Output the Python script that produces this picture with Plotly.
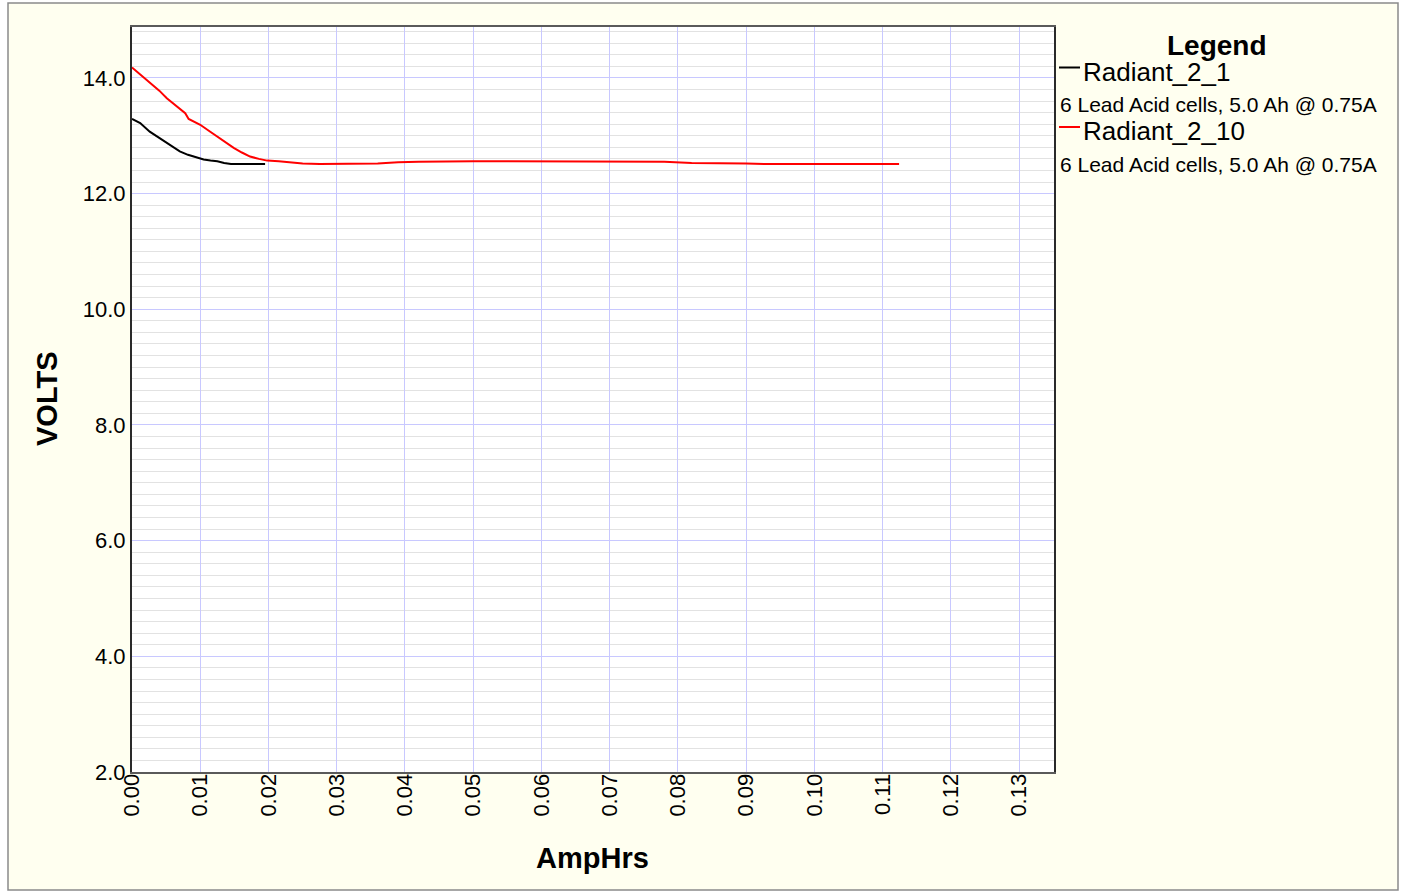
import plotly.graph_objects as go

# ---- data ----
series_names = ["Radiant_2_1", "Radiant_2_10"]
series_desc = ["6 Lead Acid cells, 5.0 Ah @ 0.75A", "6 Lead Acid cells, 5.0 Ah @ 0.75A"]
series_colors = ["#000000", "#FF0000"]

amphrs_1 = [0, 0.0012, 0.0026, 0.0040, 0.0051, 0.0062, 0.0070, 0.0082, 0.0095, 0.0105,
            0.0115, 0.0125, 0.0135, 0.0145, 0.0160, 0.0180, 0.0195]
volts_1 = [13.29, 13.22, 13.07, 12.96, 12.87, 12.79, 12.73, 12.67, 12.62, 12.59,
           12.57, 12.56, 12.53, 12.51, 12.51, 12.51, 12.51]

amphrs_10 = [0, 0.0013, 0.0026, 0.0040, 0.0051, 0.0065, 0.0078, 0.0083, 0.0090, 0.0100,
             0.0112, 0.0124, 0.0137, 0.0149, 0.0161, 0.0173, 0.0186, 0.0198, 0.0215, 0.0235,
             0.0250, 0.0275, 0.0300, 0.0330, 0.0360, 0.0390, 0.0420, 0.0500, 0.0600, 0.0700,
             0.0780, 0.0820, 0.0860, 0.0900, 0.0935, 0.1000, 0.1124]
volts_10 = [14.18, 14.05, 13.91, 13.78, 13.65, 13.52, 13.39, 13.29, 13.25, 13.19,
            13.09, 12.99, 12.89, 12.79, 12.71, 12.64, 12.60, 12.57, 12.56, 12.54,
            12.52, 12.51, 12.51, 12.51, 12.52, 12.54, 12.55, 12.56, 12.56, 12.55,
            12.55, 12.53, 12.53, 12.52, 12.51, 12.51, 12.51]

x_ticks = [round(i * 0.01, 2) for i in range(14)]
x_tick_labels = [f"{v:.2f}" for v in x_ticks]
y_ticks = [2, 4, 6, 8, 10, 12, 14]
y_tick_labels = [f"{v:.1f}" for v in y_ticks]

xs = [amphrs_1, amphrs_10]
ys = [volts_1, volts_10]

FONT = "Liberation Sans, Arial, sans-serif"

fig = go.Figure()
for name, x, y, c in zip(series_names, xs, ys, series_colors):
    fig.add_trace(go.Scatter(x=x, y=y, mode="lines", name=name,
                             line=dict(color=c, width=2), showlegend=False))

W, H = 1403, 894
L, R, T, B = 132, 349, 27, 122
pw, ph = W - L - R, H - T - B

def px(xp):
    return (xp - L) / pw

def py(yp):
    return (H - B - yp) / ph

shapes = [
    # outer frame (ivory panel)
    dict(type="rect", xref="paper", yref="paper", x0=px(8), x1=px(1398), y0=py(890), y1=py(3),
         line=dict(color="#8a8a8a", width=1.5), fillcolor="#FFFFF0", layer="below"),
    # plot area background
    dict(type="rect", xref="paper", yref="paper", x0=0, x1=1, y0=0, y1=1,
         line=dict(width=0), fillcolor="#FFFFFF", layer="below"),
]
annotations = [
    dict(text="<b>Legend</b>", xref="paper", yref="paper", x=px(1217), y=py(45),
         showarrow=False, font=dict(family=FONT, size=28, color="black"), xanchor="center", yanchor="middle"),
    dict(text="<b>VOLTS</b>", xref="paper", yref="paper", x=px(47), y=py(399), textangle=-90,
         showarrow=False, font=dict(family=FONT, size=29, color="black"), xanchor="center", yanchor="middle"),
    dict(text="<b>AmpHrs</b>", xref="paper", yref="paper", x=px(592), y=py(858),
         showarrow=False, font=dict(family=FONT, size=29, color="black"), xanchor="center", yanchor="middle"),
]
leg_rows = [(67.5, 72, 104), (127, 131, 164)]
for (ly, ny, dy), name, desc, c in zip(leg_rows, series_names, series_desc, series_colors):
    shapes.append(dict(type="line", xref="paper", yref="paper", x0=px(1059), x1=px(1080),
                       y0=py(ly), y1=py(ly), line=dict(color=c, width=2)))
    annotations.append(dict(text=name, xref="paper", yref="paper", x=px(1081), y=py(ny),
                            showarrow=False, font=dict(family=FONT, size=26, color="black"),
                            xanchor="left", yanchor="middle"))
    annotations.append(dict(text=desc, xref="paper", yref="paper", x=px(1058), y=py(dy),
                            showarrow=False, font=dict(family=FONT, size=21, color="black"),
                            xanchor="left", yanchor="middle"))

fig.update_layout(
    width=W, height=H,
    margin=dict(l=L, r=R, t=T, b=B, pad=0),
    paper_bgcolor="#FFFFFF",
    plot_bgcolor="#FFFFFF",
    shapes=shapes,
    annotations=annotations,
    showlegend=False,
    font=dict(family=FONT, color="black"),
)
fig.update_xaxes(
    range=[0, 0.1351], tickvals=x_ticks, ticktext=x_tick_labels, tickangle=-90,
    tickfont=dict(family=FONT, size=22, color="black"), ticklabelstandoff=-9,
    showgrid=True, gridcolor="#c8c8ff", gridwidth=1,
    showline=True, linecolor="#5a5a5a", linewidth=2, mirror=True,
    ticks="", zeroline=False,
)
fig.update_yaxes(
    range=[2, 14.88], tickvals=y_ticks, ticktext=y_tick_labels,
    tickfont=dict(family=FONT, size=22, color="black"),
    showgrid=True, gridcolor="#c8c8ff", gridwidth=1,
    minor=dict(dtick=0.2, showgrid=True, gridcolor="#e2e2e2", gridwidth=1),
    showline=True, linecolor="#2a2a2a", linewidth=2, mirror=True,
    ticks="", zeroline=False,
)

fig.write_html("out.html", config={"displayModeBar": False},
               post_script="document.body.style.margin='0px';")
